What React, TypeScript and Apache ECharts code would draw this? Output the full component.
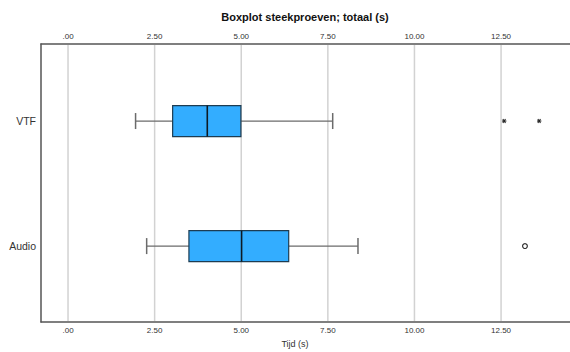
import React, { useEffect, useRef } from "react";
import * as echarts from "echarts";

const categories = ["VTF", "Audio"];
// [low whisker, Q1, median, Q3, high whisker]
const boxValues = [
  [1.95, 3.02, 4.02, 4.99, 7.64],
  [2.27, 3.49, 5.01, 6.37, 8.37],
];
// extreme outliers (*) and outliers (o): [categoryIndex, value]
const extremeOutliers = [
  [0, 12.59],
  [0, 13.6],
];
const mildOutliers = [[1, 13.19]];
const tickValues = [0, 2.5, 5, 7.5, 10, 12.5];

const fmt = (v: number) => (v === 0 ? ".00" : v.toFixed(2));

export default function App() {
  const ref = useRef<HTMLDivElement>(null);
  useEffect(() => {
    if (!ref.current) return;
    const chart = echarts.init(ref.current, null, { renderer: "svg" });
    const boxData = boxValues.map((b, i) => [i + 1, ...b]);
    const xAxisCommon = {
      type: "value",
      min: -0.78,
      max: 14.49,
      splitLine: { show: false },
      axisTick: { show: false },
      axisLine: { show: true, onZero: false, lineStyle: { color: "#555", width: 1.5 } },
      axisLabel: {
        customValues: tickValues,
        formatter: (v: number) => fmt(v),
        fontSize: 8,
        color: "#333",
        fontFamily: "Liberation Sans",
        showMinLabel: true,
        showMaxLabel: true,
        margin: 4,
      },
    };
    chart.setOption({
      animation: false,
      backgroundColor: "#fff",
      title: {
        text: "Boxplot steekproeven; totaal (s)",
        left: 300,
        top: 6,
        textAlign: "center",
        textStyle: {
          fontSize: 11,
          fontWeight: "bold",
          color: "#111",
          fontFamily: "Liberation Sans",
        },
      },
      grid: { left: 41, right: 0, top: 44, bottom: 30 },
      xAxis: [
        { ...xAxisCommon, position: "top" },
        { ...xAxisCommon, position: "bottom" },
      ],
      yAxis: {
        type: "value",
        inverse: true,
        min: 0.384,
        max: 2.607,
        position: "left",
        splitLine: { show: false },
        axisTick: { show: false },
        axisLine: { show: true, onZero: false, lineStyle: { color: "#555", width: 1.5 } },
        axisLabel: {
          customValues: [1, 2],
          formatter: (v: number) => categories[Math.round(v) - 1] ?? "",
          fontSize: 10.5,
          color: "#333",
          fontFamily: "Liberation Sans",
          margin: 5,
        },
      },
      graphic: [
        {
          type: "text",
          x: 295,
          y: 344,
          style: {
            text: "Tijd (s)",
            fontSize: 9,
            fill: "#333",
            fontFamily: "Liberation Sans",
            align: "center",
            verticalAlign: "middle",
          },
        },
      ],
      series: [
        {
          type: "custom",
          xAxisIndex: 1,
          data: tickValues.map((v) => [v]),
          z: 1,
          renderItem: (params: any, api: any) => {
            const cs = params.coordSys;
            const x = api.coord([api.value(0), 1])[0];
            return {
              type: "line",
              shape: { x1: x, y1: cs.y + 1, x2: x, y2: cs.y + cs.height - 1 },
              style: { stroke: "#d2d2d2", lineWidth: 1.5 },
            };
          },
        },
        {
          type: "custom",
          xAxisIndex: 1,
          data: boxData,
          encode: { x: [1, 2, 3, 4, 5], y: 0 },
          z: 3,
          renderItem: (params: any, api: any) => {
            const y = api.value(0);
            const lo = api.coord([api.value(1), y]);
            const q1 = api.coord([api.value(2), y]);
            const md = api.coord([api.value(3), y]);
            const q3 = api.coord([api.value(4), y]);
            const hi = api.coord([api.value(5), y]);
            const cy = lo[1];
            const hb = 15.5;
            const hc = 8;
            const wStyle = { stroke: "#6b6b6b", lineWidth: 1.2 };
            return {
              type: "group",
              children: [
                { type: "line", shape: { x1: lo[0], y1: cy, x2: q1[0], y2: cy }, style: wStyle },
                { type: "line", shape: { x1: q3[0], y1: cy, x2: hi[0], y2: cy }, style: wStyle },
                { type: "line", shape: { x1: lo[0], y1: cy - hc, x2: lo[0], y2: cy + hc }, style: { ...wStyle, lineWidth: 1.5 } },
                { type: "line", shape: { x1: hi[0], y1: cy - hc, x2: hi[0], y2: cy + hc }, style: { ...wStyle, lineWidth: 1.5 } },
                {
                  type: "rect",
                  shape: { x: q1[0], y: cy - hb, width: q3[0] - q1[0], height: hb * 2 },
                  style: { fill: "#33adff", stroke: "#1d3c52", lineWidth: 1.2 },
                },
                {
                  type: "line",
                  shape: { x1: md[0], y1: cy - hb, x2: md[0], y2: cy + hb },
                  style: { stroke: "#0d1a24", lineWidth: 1.6 },
                },
              ],
            };
          },
        },
        {
          type: "custom",
          xAxisIndex: 1,
          data: extremeOutliers.map((o) => [o[1], o[0] + 1]),
          encode: { x: 0, y: 1 },
          z: 4,
          renderItem: (params: any, api: any) => {
            const p = api.coord([api.value(0), api.value(1)]);
            const r = 2.2;
            const st = { stroke: "#222", lineWidth: 1.1 };
            return {
              type: "group",
              children: [
                { type: "line", shape: { x1: p[0] - r, y1: p[1], x2: p[0] + r, y2: p[1] }, style: st },
                { type: "line", shape: { x1: p[0] - r * 0.6, y1: p[1] - r * 0.9, x2: p[0] + r * 0.6, y2: p[1] + r * 0.9 }, style: st },
                { type: "line", shape: { x1: p[0] + r * 0.6, y1: p[1] - r * 0.9, x2: p[0] - r * 0.6, y2: p[1] + r * 0.9 }, style: st },
              ],
            };
          },
        },
        {
          type: "custom",
          xAxisIndex: 1,
          data: mildOutliers.map((o) => [o[1], o[0] + 1]),
          encode: { x: 0, y: 1 },
          z: 4,
          renderItem: (params: any, api: any) => {
            const p = api.coord([api.value(0), api.value(1)]);
            return {
              type: "circle",
              shape: { cx: p[0], cy: p[1], r: 2.4 },
              style: { fill: "#fff", stroke: "#333", lineWidth: 1.2 },
            };
          },
        },
      ],
    });
    return () => chart.dispose();
  }, []);
  return <div ref={ref} style={{ width: 570, height: 352, position: "absolute", left: 0, top: 0 }} />;
}
